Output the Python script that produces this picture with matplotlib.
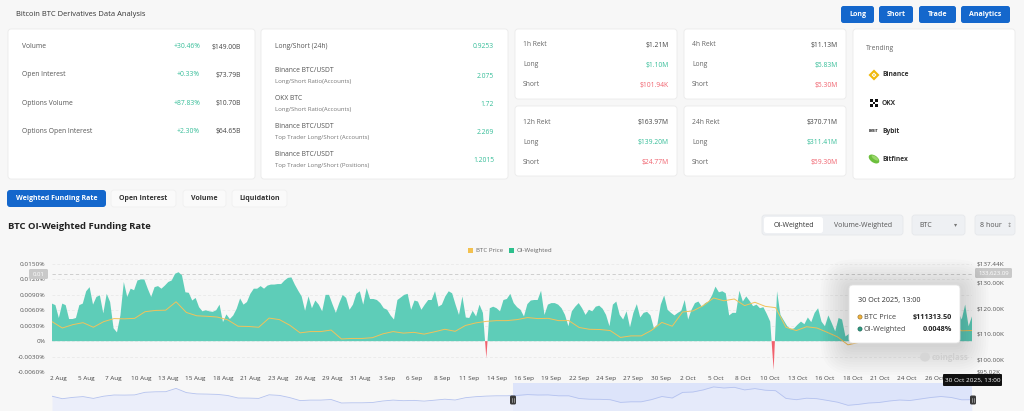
import numpy as np
import matplotlib
matplotlib.use("Agg")
import matplotlib.pyplot as plt
from matplotlib.patches import FancyBboxPatch, Circle, Rectangle, Polygon, Ellipse

plt.rcParams['font.family'] = ['Open Sans', 'DejaVu Sans']

W, H = 1024, 411

############ data ############
# OI-weighted funding rate (%), one value per 8h
funding_rate = [
    0.0073, 0.0070, 0.0045, 0.0073, 0.0070, 0.0043, 0.0043, 0.0045, 0.0070, 0.0073,
    0.0097, 0.0105, 0.0071, 0.0086, 0.0089, 0.0054, 0.0092, 0.0076, 0.0025, 0.0017,
    0.0050, 0.0115, 0.0086, 0.0102, 0.0099, 0.0118, 0.0120, 0.0120, 0.0102, 0.0086,
    0.0105, 0.0107, 0.0102, 0.0108, 0.0115, 0.0118, 0.0131, 0.0134, 0.0128, 0.0095,
    0.0094, 0.0079, 0.0084, 0.0066, 0.0058, 0.0060, 0.0058, 0.0057, 0.0060, 0.0071,
    0.0037, 0.0052, 0.0043, 0.0050, 0.0063, 0.0083, 0.0071, 0.0076, 0.0092, 0.0102,
    0.0102, 0.0107, 0.0102, 0.0108, 0.0110, 0.0110, 0.0111, 0.0111, 0.0118, 0.0123,
    0.0124, 0.0110, 0.0098, 0.0087, 0.0059, 0.0087, 0.0064, 0.0079, 0.0071, 0.0058,
    0.0090, 0.0090, 0.0072, 0.0055, 0.0074, 0.0090, 0.0084, 0.0061, 0.0071, 0.0092,
    0.0097, 0.0071, 0.0103, 0.0082, 0.0082, 0.0080, 0.0074, 0.0064, 0.0061, 0.0050,
    0.0042, 0.0080, 0.0085, 0.0090, 0.0092, 0.0061, 0.0079, 0.0077, 0.0061, 0.0071,
    0.0080, 0.0080, 0.0097, 0.0067, 0.0071, 0.0087, 0.0097, 0.0093, 0.0071, 0.0051,
    0.0087, 0.0046, 0.0045, 0.0059, 0.0048, 0.0071, 0.0055, -0.0033, 0.0064, 0.0067,
    0.0064, 0.0058, 0.0080, 0.0082, 0.0092, 0.0074, 0.0066, 0.0061, 0.0048, 0.0072,
    0.0079, 0.0080, 0.0080, 0.0098, 0.0051, 0.0071, 0.0074, 0.0074, 0.0071, 0.0064,
    0.0051, 0.0029, 0.0058, 0.0067, 0.0074, 0.0064, 0.0051, 0.0061, 0.0058, 0.0067,
    0.0069, 0.0063, 0.0051, 0.0029, 0.0071, 0.0077, 0.0051, 0.0042, 0.0058, 0.0027,
    0.0055, 0.0072, 0.0046, 0.0055, 0.0057, 0.0050, 0.0025, 0.0032, 0.0071, 0.0089,
    0.0061, 0.0055, 0.0050, 0.0055, 0.0059, 0.0080, 0.0042, 0.0061, 0.0074, 0.0077,
    0.0067, 0.0074, 0.0077, 0.0089, 0.0106, 0.0095, 0.0097, 0.0093, 0.0050, 0.0055,
    0.0055, 0.0098, 0.0077, 0.0087, 0.0078, 0.0068, 0.0071, 0.0064, 0.0066, 0.0053,
    0.0038, -0.0056, 0.0097, 0.0051, 0.0040, 0.0029, 0.0023, 0.0025, 0.0032, 0.0038,
    0.0033, 0.0046, 0.0037, 0.0055, 0.0064, 0.0038, 0.0029, 0.0050, 0.0035, 0.0019,
    0.0045, 0.0042, 0.0009, 0.0014, 0.0030, 0.0045, 0.0055, 0.0048, 0.0060, 0.0052,
    0.0040, 0.0058, 0.0065, 0.0050, 0.0045, 0.0062, 0.0070, 0.0055, 0.0048, 0.0060,
    0.0066, 0.0052, 0.0046, 0.0058, 0.0064, 0.0050, 0.0042, 0.0055, 0.0062, 0.0057,
    0.0049, 0.0060, 0.0068, 0.0058, 0.0050, 0.0056, 0.0042, 0.0071, 0.0029, 0.0048,
]

# BTC price ($K), roughly one value per day across the same span
btc_price = [
    114.8, 112.3, 113.6, 114.4, 112.6, 114.8, 116.0, 115.9, 116.1, 118.7,
    119.2, 119.3, 122.6, 118.4, 117.1, 116.9, 116.6, 115.5, 113.0, 112.9,
    112.6, 116.2, 115.6, 113.4, 110.4, 110.9, 110.9, 111.5, 108.0, 108.2,
    108.2, 108.5, 110.0, 110.9, 110.3, 110.6, 109.9, 110.8, 111.8, 111.0,
    113.3, 114.3, 114.9, 115.2, 115.2, 115.6, 116.4, 116.0, 116.1, 115.2,
    115.2, 112.5, 111.8, 111.7, 111.3, 108.6, 109.2, 109.2, 111.4, 114.5,
    113.0, 118.6, 119.0, 121.1, 124.1, 123.0, 123.7, 121.1, 122.4, 120.8,
    120.3, 112.6, 111.3, 112.8, 112.3, 110.6, 108.8, 105.7, 106.6, 108.0,
    108.5, 110.0, 111.0, 110.5, 112.0, 113.5, 114.5, 113.5, 111.2, 111.3,
]

x_labels = ['2 Aug', '5 Aug', '7 Aug', '10 Aug', '13 Aug', '15 Aug', '18 Aug', '21 Aug',
            '23 Aug', '26 Aug', '29 Aug', '31 Aug', '3 Sep', '6 Sep', '8 Sep', '11 Sep',
            '14 Sep', '16 Sep', '19 Sep', '22 Sep', '24 Sep', '27 Sep', '30 Sep', '2 Oct',
            '5 Oct', '8 Oct', '10 Oct', '13 Oct', '16 Oct', '18 Oct', '21 Oct', '24 Oct',
            '26 Oct']
rate_ticks = [-0.006, -0.003, 0.0, 0.003, 0.006, 0.009, 0.012, 0.015]
price_ticks = [95.02, 100.0, 110.0, 120.0, 130.0, 137.44]
crosshair_rate = 0.0130
crosshair_price = '133,623.09'
slider_start = 134.8

summary_labels = ['Volume', 'Open Interest', 'Options Volume', 'Options Open Interest']
summary_change = ['+30.46%', '+0.33%', '+87.83%', '+2.30%']
summary_value = ['$149.00B', '$73.79B', '$10.70B', '$64.65B']

ratio_titles = ['Long/Short (24h)', 'Binance BTC/USDT', 'OKX BTC', 'Binance BTC/USDT', 'Binance BTC/USDT']
ratio_subs = ['', 'Long/Short Ratio(Accounts)', 'Long/Short Ratio(Accounts)',
              'Top Trader Long/Short (Accounts)', 'Top Trader Long/Short (Positions)']
ratio_values = ['0.9253', '2.075', '1.72', '2.269', '1.2015']

rekt_periods = ['1h Rekt', '4h Rekt', '12h Rekt', '24h Rekt']
rekt_total = ['$1.21M', '$11.13M', '$163.97M', '$370.71M']
rekt_long = ['$1.10M', '$5.83M', '$139.20M', '$311.41M']
rekt_short = ['$101.94K', '$5.30M', '$24.77M', '$59.30M']

trending = ['Binance', 'OKX', 'Bybit', 'Bitfinex']

GREEN_TXT = '#35bd98'
RED_TXT = '#f0616d'
BLUE = '#1467cc'
AREA = '#5ecdb8'
NEG = '#f2606c'
PRICE = '#f2c25a'
DARK = '#333333'
FS = 4.9

############ figure ############
fig = plt.figure(figsize=(W / 100, H / 100), dpi=100, facecolor='#f7f7f7')

bg = fig.add_axes([0, 0, 1, 1])
bg.set_xlim(0, W)
bg.set_ylim(H, 0)
bg.axis('off')
bg.set_zorder(0)


def rbox(a, x0, y0, x1, y1, fc, ec='none', r=3, lw=0.6, z=1, alpha=1.0):
    p = FancyBboxPatch((x0, y0), x1 - x0, y1 - y0,
                       boxstyle="round,pad=0,rounding_size=%s" % r,
                       fc=fc, ec=ec, lw=lw, zorder=z, alpha=alpha)
    a.add_patch(p)
    return p


def txt(a, x, y, s, size=FS, color=DARK, ha='left', weight='normal', z=3, **kw):
    a.text(x, y, s, fontsize=size, color=color, ha=ha, va='center',
           fontweight=weight, zorder=z, **kw)


# header
txt(bg, 16, 15, 'Bitcoin BTC Derivatives Data Analysis', size=5.4, color='#333333')
for lab, x0, x1 in [('Long', 841, 874), ('Short', 879, 913), ('Trade', 919, 956), ('Analytics', 961, 1010)]:
    rbox(bg, x0, 6, x1, 23, BLUE, r=2.5)
    txt(bg, (x0 + x1) / 2, 14.5, lab, size=5.0, color='white', ha='center', weight='bold')

# card 1 : market summary
rbox(bg, 8, 29, 255, 179, 'white', ec='#ebebeb')
for k, lab in enumerate(summary_labels):
    y = 47 + 28 * k
    txt(bg, 22, y, lab, color='#555555')
    txt(bg, 200, y, summary_change[k], color=GREEN_TXT, ha='right')
    txt(bg, 241, y, summary_value[k], color='#444444', ha='right')

# card 2 : long / short ratios
rbox(bg, 261, 29, 508, 179, 'white', ec='#ebebeb')
for k, lab in enumerate(ratio_titles):
    if ratio_subs[k]:
        y = 70 + 28 * (k - 1)
        txt(bg, 275, y, lab, color='#555555')
        txt(bg, 275, y + 11, ratio_subs[k], size=4.3, color='#777777')
        txt(bg, 494, y + 6, ratio_values[k], color=GREEN_TXT, ha='right')
    else:
        txt(bg, 275, 47, lab, color='#555555')
        txt(bg, 494, 47, ratio_values[k], color=GREEN_TXT, ha='right')

# rekt cards
rekt_boxes = [(515, 29, 677, 99), (684, 29, 846, 99), (515, 106, 677, 176), (684, 106, 846, 176)]
for k, (x0, y0, x1, y1) in enumerate(rekt_boxes):
    rbox(bg, x0, y0, x1, y1, 'white', ec='#ebebeb')
    txt(bg, x0 + 8, y0 + 16, rekt_periods[k], color='#666666')
    txt(bg, x1 - 8, y0 + 16, rekt_total[k], color='#444444', ha='right')
    txt(bg, x0 + 8, y0 + 36, 'Long', color='#666666')
    txt(bg, x1 - 8, y0 + 36, rekt_long[k], color=GREEN_TXT, ha='right')
    txt(bg, x0 + 8, y0 + 56, 'Short', color='#666666')
    txt(bg, x1 - 8, y0 + 56, rekt_short[k], color=RED_TXT, ha='right')

# trending card
rbox(bg, 853, 29, 1015, 179, 'white', ec='#ebebeb')
txt(bg, 866, 48, 'Trending', color='#666666')
for k, name in enumerate(trending):
    y = 75 + 28 * k
    txt(bg, 882, y, name, size=4.8, color='#333333', weight='bold')
ix = 874
# Binance
bg.add_patch(Polygon([(ix, 69.5), (ix + 5.5, 75), (ix, 80.5), (ix - 5.5, 75)], closed=True, fc='#f0b90b', ec='none', zorder=3))
bg.add_patch(Polygon([(ix, 72.5), (ix + 2.5, 75), (ix, 77.5), (ix - 2.5, 75)], closed=True, fc='white', ec='none', zorder=4))
bg.add_patch(Polygon([(ix, 74), (ix + 1, 75), (ix, 76), (ix - 1, 75)], closed=True, fc='#f0b90b', ec='none', zorder=5))
# OKX
for dx, dy in [(-2.6, -2.6), (2.6, -2.6), (0, 0), (-2.6, 2.6), (2.6, 2.6)]:
    bg.add_patch(Rectangle((ix + dx - 1.3, 103 + dy - 1.3), 2.6, 2.6, fc='#111111', ec='none', zorder=3))
# Bybit
txt(bg, ix, 131, 'BYBIT', size=2.4, color='#222222', ha='center', weight='bold')
# Bitfinex
bg.add_patch(Ellipse((ix, 159), 12, 7, angle=35, fc='#6cbf3c', ec='none', zorder=3))
bg.add_patch(Ellipse((ix + 1, 158), 8, 3, angle=35, fc='#9ad66a', ec='none', zorder=4))

# tabs
rbox(bg, 7, 190, 106, 207, BLUE, r=3)
txt(bg, 56.5, 198.5, 'Weighted Funding Rate', size=5.0, color='white', ha='center', weight='bold')
for lab, x0, x1 in [('Open Interest', 111, 176), ('Volume', 183, 226), ('Liquidation', 232, 287)]:
    rbox(bg, x0, 190, x1, 207, '#fafafa', ec='#f0f0f0', r=3)
    txt(bg, (x0 + x1) / 2, 198.5, lab, size=5.0, color='#333333', ha='center', weight='bold')

txt(bg, 8, 226, 'BTC OI-Weighted Funding Rate', size=6.8, color='#222222', weight='bold')

# right controls
rbox(bg, 762, 215, 903, 235, '#eef0f3', ec='#e6e8eb', r=3)
rbox(bg, 764, 217, 823, 233, 'white', r=2.5, z=2)
txt(bg, 793.5, 225, 'OI-Weighted', size=5.0, color='#333333', ha='center')
txt(bg, 863, 225, 'Volume-Weighted', size=5.0, color='#555555', ha='center')
rbox(bg, 912, 215, 965, 235, '#eef0f3', ec='#e6e8eb', r=3)
txt(bg, 919, 225, 'BTC', size=5.0, color='#555555')
txt(bg, 956, 225, '▾', size=4.5, color='#777777', ha='center')
rbox(bg, 975, 215, 1015, 235, '#eef0f3', ec='#e6e8eb', r=3)
txt(bg, 980, 225, '8 hour', size=5.0, color='#555555')
txt(bg, 1009, 225, '↕', size=4.5, color='#888888', ha='center')

# legend
bg.add_patch(Rectangle((467.5, 247.5), 5, 5, fc='#f3c14f', ec='none', zorder=3))
txt(bg, 476, 250, 'BTC Price', size=4.4, color='#666666')
bg.add_patch(Rectangle((509, 247.5), 5, 5, fc='#2dc08d', ec='none', zorder=3))
txt(bg, 517, 250, 'OI-Weighted', size=4.4, color='#666666')

############ main chart ############
ax = fig.add_axes([52 / W, 1 - 372 / H, 920 / W, 108 / H])
ax.set_zorder(2)
ax.patch.set_visible(False)
rate = np.array(funding_rate)
idx = np.arange(len(rate))
ax.fill_between(idx, 0, rate, where=rate >= 0, interpolate=True, color=AREA, lw=0, zorder=2)
ax.fill_between(idx, 0, rate, where=rate <= 0, interpolate=True, color=NEG, lw=0, zorder=2)
ax.set_xlim(0, len(rate) - 1)
ax.set_ylim(rate_ticks[0], rate_ticks[-1])
ax.set_yticks(rate_ticks)
ax.set_yticklabels(['0%' if v == 0 else '%.4f%%' % v for v in rate_ticks])
ax.set_xticks(2 + 8 * np.arange(len(x_labels)))
ax.set_xticklabels(x_labels)
ax.grid(axis='y', color='#e6e6e6', lw=0.5, ls=(0, (4, 3)), zorder=0)
ax.axhline(crosshair_rate, color='#c8c8c8', lw=0.6, ls=(0, (4, 3)), zorder=1)
ax.axvline(len(rate) - 1, color='#c8c8c8', lw=0.6, ls=(0, (4, 3)), zorder=1)
for s in ax.spines.values():
    s.set_visible(False)
ax.tick_params(axis='y', length=0, labelsize=4.6, labelcolor='#555555', pad=4.5)
ax.tick_params(axis='x', length=0, labelsize=4.6, labelcolor='#444444', pad=3)

ax2 = ax.twinx()
ax2.set_zorder(3)
ax2.patch.set_visible(False)
price = np.array(btc_price)
pidx = np.linspace(0, len(rate) - 1, len(price))
ax2.plot(pidx, price, color=PRICE, lw=0.7, zorder=3)
ax2.set_ylim(price_ticks[0], price_ticks[-1])
ax2.set_yticks(price_ticks)
ax2.set_yticklabels(['$%.2fK' % v for v in price_ticks])
for s in ax2.spines.values():
    s.set_visible(False)
ax2.tick_params(axis='y', length=0, labelsize=4.6, labelcolor='#555555', pad=3)

############ slider ############
sl = fig.add_axes([52 / W, 0, 920 / W, 28 / H])
sl.set_zorder(1)
sl.patch.set_visible(False)
sl.set_xlim(0, len(rate) - 1)
sl.set_ylim(100, 128)
sl.axvspan(slider_start, len(rate) - 1, color='#dde4fa', lw=0, zorder=1)
sl.fill_between(pidx, 100, price, color='#e8ecfb', lw=0, zorder=2, alpha=0.8)
sl.plot(pidx, price, color='#b4c2ef', lw=0.6, zorder=3)
sl.axis('off')

############ overlay ############
ov = fig.add_axes([0, 0, 1, 1])
ov.set_xlim(0, W)
ov.set_ylim(H, 0)
ov.axis('off')
ov.set_zorder(5)
ov.patch.set_visible(False)

# crosshair value boxes
rbox(ov, 29, 269, 48, 279, '#c9c9c9', r=1.5)
txt(ov, 38.5, 274, '0.01', size=4.3, color='white', ha='center')
rbox(ov, 975, 268, 1012, 278, '#c9c9c9', r=1.5)
txt(ov, 993.5, 273, crosshair_price, size=4.3, color='white', ha='center')

# black date label
rbox(ov, 943, 374, 1002, 386, '#111111', r=1)
txt(ov, 972.5, 380, '30 Oct 2025, 13:00', size=4.6, color='white', ha='center')

# slider handles
for hx in [513, 973]:
    rbox(ov, hx - 3, 395.5, hx + 3, 404.5, '#3a3a3a', r=1.5)
    ov.plot([hx - 0.8, hx - 0.8], [398, 402], color='#cccccc', lw=0.4)
    ov.plot([hx + 0.8, hx + 0.8], [398, 402], color='#cccccc', lw=0.4)

# watermark
ov.add_patch(Ellipse((925, 357), 10, 9, fc='#d6d6d6', ec='none', zorder=2))
txt(ov, 932, 357, 'coinglass', size=5.8, color='#cfcfcf', weight='bold')

# tooltip with soft shadow
for k in range(12):
    pad = 1 + 2.5 * k
    rbox(ov, 849 - pad, 285 - pad + 3, 960 + pad, 343 + pad + 3, 'black', r=4 + pad, z=1, alpha=0.011)
rbox(ov, 849, 285, 960, 343, 'white', ec='#e4e4e4', r=4, z=3)
txt(ov, 858, 300, '30 Oct 2025, 13:00', size=5.2, color='#333333', z=4)
ov.add_patch(Circle((860, 317), 2.1, fc='#f3b43a', ec='#8a6a30', lw=0.4, zorder=4))
txt(ov, 864, 317, 'BTC Price', size=5.2, color='#444444', z=4)
txt(ov, 952, 317, '$111313.50', size=5.2, color='#222222', ha='right', weight='bold', z=4)
ov.add_patch(Circle((860, 329), 2.1, fc='#2f9a82', ec='#1f5f50', lw=0.4, zorder=4))
txt(ov, 864, 329, 'OI-Weighted', size=5.2, color='#444444', z=4)
txt(ov, 952, 329, '0.0048%', size=5.2, color='#222222', ha='right', weight='bold', z=4)

fig.savefig('out.png', dpi=100, facecolor=fig.get_facecolor())
